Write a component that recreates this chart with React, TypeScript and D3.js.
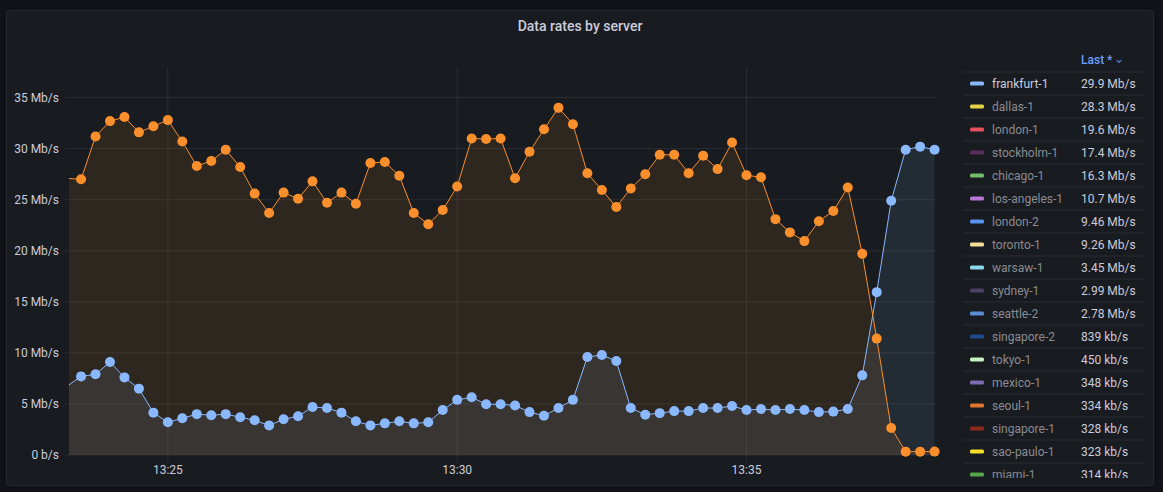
import React from 'react';
import * as d3 from 'd3';

// ---- Data ----
const firstTime = new Date(2024, 0, 1, 13, 23, 15);
const stepMs = 15000;

const seoulValues = [
  27.1, 27.0, 31.2, 32.7, 33.1, 31.6, 32.2, 32.8, 30.7, 28.3, 28.8, 29.9, 28.2, 25.6, 23.7, 25.7,
  25.1, 26.8, 24.7, 25.7, 24.6, 28.6, 28.7, 27.35, 23.7, 22.6, 24.0, 26.3, 31.0, 30.95, 31.0,
  27.1, 29.7, 31.9, 34.0, 32.4, 27.6, 25.95, 24.3, 26.1, 27.5, 29.4, 29.4, 27.6, 29.3, 28.0,
  30.6, 27.4, 27.2, 23.1, 21.8, 20.95, 22.9, 23.9, 26.2, 19.7, 11.4, 2.65, 0.33, 0.33, 0.334,
];

const frankfurtValues = [
  6.7, 7.7, 7.9, 9.1, 7.6, 6.5, 4.15, 3.2, 3.6, 4.0, 3.9, 4.0, 3.7, 3.4, 2.9, 3.5,
  3.8, 4.7, 4.6, 4.15, 3.3, 2.9, 3.1, 3.3, 3.1, 3.2, 4.4, 5.4, 5.65, 4.97, 4.97,
  4.85, 4.2, 3.85, 4.6, 5.4, 9.6, 9.8, 9.2, 4.6, 3.95, 4.1, 4.3, 4.3, 4.6, 4.6,
  4.8, 4.4, 4.5, 4.4, 4.5, 4.4, 4.2, 4.25, 4.5, 7.8, 15.95, 24.9, 29.9, 30.2, 29.9,
];

const times = frankfurtValues.map((_, i) => new Date(+firstTime + i * stepMs));

const yTicks = [0, 5, 10, 15, 20, 25, 30, 35];

const legendNames = [
  'frankfurt-1', 'dallas-1', 'london-1', 'stockholm-1', 'chicago-1', 'los-angeles-1',
  'london-2', 'toronto-1', 'warsaw-1', 'sydney-1', 'seattle-2', 'singapore-2', 'tokyo-1',
  'mexico-1', 'seoul-1', 'singapore-1', 'sao-paulo-1', 'miami-1',
];
const legendColors = [
  '#8AB8FF', '#E3D245', '#E8505F', '#5C2D5B', '#73BF69', '#B877D9',
  '#5794F2', '#F5DF98', '#8AD8EC', '#4A4163', '#5B8CD5', '#1F4C8A', '#C8F2C2',
  '#7C6CB0', '#E0752D', '#8C2A1E', '#FADE2A', '#56A64B',
];
const legendLast = [
  '29.9 Mb/s', '28.3 Mb/s', '19.6 Mb/s', '17.4 Mb/s', '16.3 Mb/s', '10.7 Mb/s',
  '9.46 Mb/s', '9.26 Mb/s', '3.45 Mb/s', '2.99 Mb/s', '2.78 Mb/s', '839 kb/s', '450 kb/s',
  '348 kb/s', '334 kb/s', '328 kb/s', '323 kb/s', '314 kb/s',
];

// ---- Styles ----
const W = 1163;
const H = 492;
const plotLeft = 69;
const plotRight = 937;
const plotTop = 67;
const plotBottom = 455;
const FONT = 'Roboto, Inter, "Noto Sans", sans-serif';
const TEXT = '#ccccdc';
const GRID = 'rgba(204,204,220,0.10)';
const ORANGE = '#FA8F2C';
const BLUE = '#8AB8FF';

export default function App() {
  const x = d3
    .scaleTime()
    .domain([new Date(2024, 0, 1, 13, 23, 17, 500), new Date(2024, 0, 1, 13, 38, 17, 500)])
    .range([plotLeft, plotRight]);
  const y = d3.scaleLinear().domain([0, 38]).range([plotBottom, plotTop]);

  const xTicks = x.ticks(d3.timeMinute.every(5) as any);
  const fmt = d3.timeFormat('%H:%M');

  const line = d3
    .line<number>()
    .x((_, i) => x(times[i]))
    .y((d) => y(d));
  const area = d3
    .area<number>()
    .x((_, i) => x(times[i]))
    .y0(y(0))
    .y1((d) => y(d));

  const legendX = 963;
  const legendRight = 1145;
  const headerLineY = 72;
  const rowH = 23;

  return (
    <svg
      width={W}
      height={H}
      style={{ position: 'fixed', left: 0, top: 0, display: 'block', background: '#111217' }}
      fontFamily={FONT}
    >
      <defs>
        <clipPath id="plotClip">
          <rect x={plotLeft} y={0} width={plotRight - plotLeft + 10} height={H} />
        </clipPath>
        <clipPath id="legendClip">
          <rect x={955} y={45} width={200} height={433} />
        </clipPath>
      </defs>
      <rect x={0} y={0} width={W} height={H} fill="#111217" />
      <rect x={6.5} y={10.5} width={1147} height={475} rx={2} fill="#181b1f" stroke="#24272c" />

      <text x={580} y={26} textAnchor="middle" dominantBaseline="central" fill={TEXT} fontSize={14} fontWeight={500}>
        Data rates by server
      </text>

      {/* grid */}
      {yTicks.map((t) => (
        <g key={'y' + t}>
          <line x1={plotLeft - 4} x2={plotRight} y1={y(t)} y2={y(t)} stroke={GRID} />
          <text x={59} y={y(t)} textAnchor="end" dominantBaseline="central" fill={TEXT} fontSize={12}>
            {t === 0 ? '0 b/s' : `${t} Mb/s`}
          </text>
        </g>
      ))}
      {xTicks.map((t) => (
        <g key={'x' + +t}>
          <line x1={x(t)} x2={x(t)} y1={plotTop} y2={plotBottom + 8} stroke={GRID} />
          <text x={x(t)} y={470} textAnchor="middle" dominantBaseline="central" fill={TEXT} fontSize={12}>
            {fmt(t)}
          </text>
        </g>
      ))}

      <g clipPath="url(#plotClip)">
        <path d={area(frankfurtValues) || ''} fill={BLUE} fillOpacity={0.1} />
        <path d={area(seoulValues) || ''} fill={ORANGE} fillOpacity={0.1} />
        <path d={line(frankfurtValues) || ''} fill="none" stroke={BLUE} strokeWidth={1} />
        {frankfurtValues.map((v, i) =>
          i === 0 ? null : <circle key={'b' + i} cx={x(times[i])} cy={y(v)} r={5} fill={BLUE} />
        )}
        <path d={line(seoulValues) || ''} fill="none" stroke={ORANGE} strokeWidth={1} />
        {seoulValues.map((v, i) =>
          i === 0 ? null : <circle key={'o' + i} cx={x(times[i])} cy={y(v)} r={5} fill={ORANGE} />
        )}
      </g>

      {/* legend */}
      <text x={1081} y={60} dominantBaseline="central" fill="#6E9FFF" fontSize={12} fontWeight={500}>
        Last * <tspan fontSize={9}>⌄</tspan>
      </text>
      <g clipPath="url(#legendClip)">
        <line x1={legendX} x2={legendRight} y1={headerLineY} y2={headerLineY} stroke="#2a2d33" />
        {legendNames.map((name, i) => {
          const cy = headerLineY + rowH * i + rowH / 2;
          return (
            <g key={name}>
              <rect x={970} y={cy - 2} width={14} height={4} rx={1.5} fill={legendColors[i]} />
              <text x={992} y={cy} dominantBaseline="central" fill={i === 0 ? TEXT : '#8a8b93'} fontSize={12}>
                {name}
              </text>
              <text x={1081} y={cy} dominantBaseline="central" fill={TEXT} fontSize={12}>
                {legendLast[i]}
              </text>
              <line
                x1={legendX}
                x2={legendRight}
                y1={headerLineY + rowH * (i + 1)}
                y2={headerLineY + rowH * (i + 1)}
                stroke="#2a2d33"
              />
            </g>
          );
        })}
      </g>
    </svg>
  );
}
